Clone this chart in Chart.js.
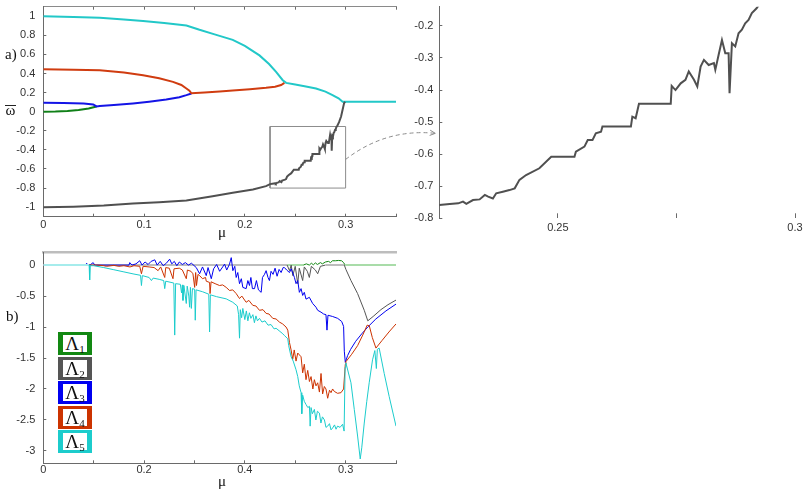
<!DOCTYPE html>
<html>
<head>
<meta charset="utf-8">
<script src="https://cdn.jsdelivr.net/npm/chart.js@4.4.1/dist/chart.umd.min.js"></script>
<style>
  html, body { margin: 0; padding: 0; background: #fff; }
  #page { position: relative; width: 803px; height: 491px; overflow: hidden; font-family: "Liberation Serif", "DejaVu Serif", serif; }
  .box { position: absolute; }
  .lbl { position: absolute; color: #111; font-size: 15px; line-height: 15px; white-space: nowrap; }
  .leg { position: absolute; left: 58px; width: 24px; height: 17px; border-style: solid; border-width: 3px 5px; background: #fff;
         font-size: 19px; line-height: 18px; text-align: center; color: #111; }
  .leg sub { font-size: 11px; line-height: 0; vertical-align: -3px; }
</style>
</head>
<body>
<div id="page">
  <div class="box" style="left:0;top:0;width:400px;height:245px"><canvas id="chartA"></canvas></div>
  <div class="box" style="left:400px;top:0;width:403px;height:245px"><canvas id="chartC"></canvas></div>
  <div class="box" style="left:0;top:245px;width:400px;height:246px"><canvas id="chartB"></canvas></div>
  <canvas id="overlay" width="803" height="491" style="position:absolute;left:0;top:0;pointer-events:none"></canvas>

  <div class="lbl" style="left:5px;top:47px">a)</div>
  <div class="lbl" style="left:6px;top:309px">b)</div>
  <div class="lbl" style="left:5px;top:105px;width:11px;border-top:1px solid #222;line-height:9px;text-align:center">ω</div>
  <div class="lbl" style="left:218px;top:225px">μ</div>
  <div class="lbl" style="left:218px;top:474px">μ</div>

  <div class="leg" style="top:332px;border-color:#128812">Λ<sub>1</sub></div>
  <div class="leg" style="top:356.5px;border-color:#555555">Λ<sub>2</sub></div>
  <div class="leg" style="top:381px;border-color:#0000f0">Λ<sub>3</sub></div>
  <div class="leg" style="top:405.5px;border-color:#cc3300">Λ<sub>4</sub></div>
  <div class="leg" style="top:430px;border-color:#1ccccc">Λ<sub>5</sub></div>
</div>

<script>
// ---- data: panel a, mean frequencies vs mu ----
const omegaCyan = [[0,1.0],[0.03,0.993],[0.0561,0.983],[0.08,0.967],[0.099,0.95],[0.12,0.93],[0.142,0.903],[0.155,0.858],
  [0.17,0.81],[0.188,0.753],[0.2,0.69],[0.2145,0.59],[0.224,0.5],[0.231,0.417],[0.2376,0.33],[0.241,0.302],[0.25,0.285],
  [0.2606,0.265],[0.2706,0.243],[0.28,0.21],[0.287,0.174],[0.293,0.14],[0.297,0.104],[0.35,0.104]];
const omegaRed = [[0,0.444],[0.03,0.44],[0.056,0.434],[0.08,0.41],[0.099,0.382],[0.115,0.35],[0.1287,0.3125],[0.137,0.28],
  [0.142,0.243],[0.145,0.22],[0.147,0.193],[0.16,0.202],[0.175,0.212],[0.188,0.222],[0.205,0.235],[0.221,0.25],
  [0.23,0.262],[0.236,0.28],[0.2393,0.302]];
const omegaBlue = [[0,0.094],[0.02,0.092],[0.04,0.085],[0.0495,0.076],[0.0528,0.055],[0.056,0.059],[0.07,0.07],
  [0.089,0.087],[0.105,0.105],[0.122,0.128],[0.135,0.152],[0.142,0.174],[0.147,0.191]];
const omegaGreen = [[0,0],[0.012,0.002],[0.024,0.007],[0.035,0.017],[0.045,0.034],[0.0528,0.055]];
const omegaGray = [[0,-1.0],[0.03,-0.995],[0.06,-0.983],[0.089,-0.962],[0.115,-0.948],[0.142,-0.93],[0.168,-0.885],
  [0.188,-0.85],[0.208,-0.816],[0.221,-0.78],[0.225,-0.7585],[0.2272,-0.7554],[0.229,-0.7533],[0.23,-0.748],
  [0.2307,-0.755],[0.2321,-0.743],[0.2335,-0.741],[0.2346,-0.727],[0.2353,-0.7325],[0.2363,-0.738],[0.237,-0.722],
  [0.2384,-0.717],[0.2398,-0.712],[0.2409,-0.7065],[0.2419,-0.68],[0.2433,-0.665],[0.2461,-0.644],[0.2486,-0.608],
  [0.2535,-0.608],[0.2538,-0.592],[0.2556,-0.5765],[0.2563,-0.556],[0.2573,-0.556],[0.258,-0.535],[0.2591,-0.53],
  [0.2594,-0.514],[0.2654,-0.514],[0.2657,-0.483],[0.2664,-0.488],[0.2668,-0.462],[0.2671,-0.443],[0.2738,-0.443],
  [0.274,-0.387],[0.2748,-0.4],[0.2759,-0.379],[0.2769,-0.368],[0.2776,-0.342],[0.2787,-0.368],[0.2794,-0.389],
  [0.2801,-0.327],[0.2808,-0.306],[0.2818,-0.322],[0.2829,-0.316],[0.2832,-0.337],[0.2839,-0.29],[0.2846,-0.244],
  [0.2853,-0.285],[0.286,-0.285],[0.2862,-0.41],[0.2867,-0.254],[0.2874,-0.264],[0.2881,-0.223],[0.2888,-0.212],
  [0.2895,-0.192],[0.2902,-0.181],[0.2909,-0.16],[0.2919,-0.145],[0.2935,-0.11],[0.2955,-0.05],[0.297,0.02],
  [0.2985,0.09],[0.2995,0.104]];
const zoomBoxMu = [0.225, 0.3];
const zoomBoxOmega = [-0.8, -0.155];

// ---- data: panel b, Lyapunov exponents vs mu ----
const lyap1 = [[0,0],[0.258,0],[0.261,0.02],[0.264,0],[0.266,0.03],[0.268,0.005],[0.27,0.035],[0.272,0.01],[0.275,0.04],
  [0.277,0.02],[0.28,0.05],[0.283,0.06],[0.285,0.04],[0.287,0.07],[0.29,0.07],[0.293,0.075],[0.296,0.07],[0.298,0.04],
  [0.2995,0],[0.35,0]];
const lyap2 = [[0,0],[0.242,0],[0.2443,-0.09],[0.246,0],[0.2476,-0.17],[0.25,-0.02],[0.2525,-0.3],[0.254,-0.05],
  [0.2574,-0.25],[0.259,-0.03],[0.262,-0.1],[0.264,-0.2],[0.266,-0.02],[0.27,-0.08],[0.2723,-0.14],[0.275,-0.02],
  [0.28,0],[0.2987,0],[0.3003,-0.07],[0.3053,-0.25],[0.3119,-0.46],[0.3185,-0.73],[0.322,-0.9],[0.328,-0.82],
  [0.335,-0.72],[0.342,-0.64],[0.35,-0.565]];
const lyap3 = [[0,0],[0.042,0],[0.043,0.03],[0.0445,-0.005],[0.047,0.01],[0.0495,0.04],[0.051,0],[0.085,0],[0.0858,0.04],
  [0.088,0],[0.092,0.02],[0.0957,0.07],[0.098,0],[0.101,0.05],[0.104,0.01],[0.107,0.06],[0.1106,0.085],[0.113,0],
  [0.116,0.06],[0.119,-0.01],[0.1221,0.03],[0.1254,0.096],[0.1275,0.02],[0.13,0.06],[0.1325,-0.01],[0.135,0.05],
  [0.138,0.01],[0.141,0.04],[0.144,0],[0.147,0.03],[0.1518,-0.04],[0.1551,-0.14],[0.158,-0.03],[0.1617,-0.17],
  [0.1635,-0.04],[0.1667,-0.22],[0.169,-0.06],[0.172,0.01],[0.175,-0.1],[0.178,-0.03],[0.1799,0.016],[0.182,-0.08],
  [0.1848,0.016],[0.1865,0.12],[0.1881,-0.09],[0.19,-0.02],[0.1914,-0.2],[0.193,-0.12],[0.1947,-0.3],[0.1965,-0.22],
  [0.198,-0.36],[0.2013,-0.38],[0.203,-0.25],[0.2046,-0.33],[0.206,-0.2],[0.2075,-0.38],[0.2096,-0.38],[0.2115,-0.25],
  [0.2135,-0.4],[0.2162,-0.44],[0.2175,-0.2],[0.2195,-0.15],[0.2211,-0.09],[0.223,-0.2],[0.2244,-0.25],[0.226,-0.1],
  [0.228,-0.15],[0.23,-0.05],[0.232,-0.18],[0.234,-0.07],[0.236,-0.12],[0.238,-0.04],[0.2393,-0.04],[0.2415,-0.08],
  [0.2443,-0.12],[0.246,-0.06],[0.2492,-0.2],[0.2508,-0.3],[0.2525,-0.25],[0.2541,-0.44],[0.2558,-0.38],[0.2574,-0.49],
  [0.259,-0.44],[0.2607,-0.55],[0.264,-0.52],[0.2673,-0.62],[0.2706,-0.68],[0.2723,-0.73],[0.2756,-0.76],[0.2782,-0.79],
  [0.2805,-0.8],[0.2815,-1.05],[0.2825,-0.81],[0.2871,-0.83],[0.2921,-0.86],[0.2961,-0.91],[0.298,-0.99],[0.2987,-1.39],
  [0.2997,-1.57],[0.302,-1.46],[0.305,-1.36],[0.31,-1.23],[0.316,-1.11],[0.322,-1.0],[0.33,-0.87],[0.34,-0.74],[0.35,-0.63]];
const lyap4 = [[0,0],[0.054,0],[0.06,-0.01],[0.0627,-0.02],[0.07,-0.005],[0.075,-0.02],[0.08,-0.01],[0.086,-0.03],
  [0.09,-0.01],[0.0957,-0.02],[0.0974,-0.14],[0.099,-0.02],[0.105,-0.03],[0.11,-0.04],[0.1139,-0.09],[0.1165,-0.03],
  [0.1205,-0.2],[0.1215,-0.04],[0.125,-0.05],[0.1287,-0.22],[0.1297,-0.06],[0.135,-0.05],[0.138,-0.08],[0.1419,-0.22],
  [0.143,-0.08],[0.1465,-0.1],[0.1485,-0.14],[0.1502,-0.36],[0.1512,-0.12],[0.152,-0.33],[0.1535,-0.15],[0.1551,-0.17],
  [0.158,-0.22],[0.161,-0.2],[0.1617,-0.26],[0.165,-0.28],[0.1655,-0.46],[0.1665,-0.27],[0.1705,-0.3],[0.1749,-0.33],
  [0.178,-0.32],[0.1815,-0.36],[0.1848,-0.41],[0.188,-0.4],[0.1914,-0.46],[0.1947,-0.54],[0.197,-0.5],[0.2013,-0.6],
  [0.204,-0.57],[0.2079,-0.65],[0.211,-0.66],[0.2145,-0.73],[0.218,-0.72],[0.2211,-0.78],[0.224,-0.79],[0.2277,-0.86],
  [0.231,-0.87],[0.2343,-0.92],[0.2375,-0.95],[0.2409,-1.0],[0.2426,-1.05],[0.2443,-1.25],[0.2459,-1.37],[0.2475,-1.52],
  [0.249,-1.37],[0.2508,-1.55],[0.2525,-1.42],[0.2558,-1.48],[0.2574,-1.74],[0.259,-1.6],[0.2607,-1.85],[0.2624,-1.7],
  [0.2641,-1.88],[0.2657,-1.8],[0.2675,-2.0],[0.269,-1.85],[0.2706,-1.95],[0.2723,-1.9],[0.274,-2.05],[0.2756,-1.75],
  [0.2772,-2.08],[0.2789,-1.96],[0.2805,-2.0],[0.2822,-2.15],[0.284,-2.02],[0.2855,-2.06],[0.2871,-2.0],[0.2888,-2.04],
  [0.292,-2.07],[0.2954,-2.06],[0.298,-2.0],[0.2997,-1.6],[0.3003,-1.56],[0.306,-1.44],[0.3119,-1.3],[0.317,-1.13],
  [0.3214,-0.97],[0.3235,-0.98],[0.3265,-1.17],[0.3301,-1.34],[0.336,-1.22],[0.343,-1.08],[0.35,-0.95]];
const lyap5 = [[0,0],[0.0455,0],[0.046,-0.24],[0.0466,-0.01],[0.05,-0.01],[0.06,-0.04],[0.07,-0.075],[0.08,-0.11],
  [0.09,-0.145],[0.0965,-0.165],[0.0974,-0.33],[0.0983,-0.17],[0.105,-0.2],[0.1073,-0.25],[0.109,-0.21],[0.115,-0.23],
  [0.1195,-0.25],[0.1205,-0.38],[0.1215,-0.26],[0.1295,-0.29],[0.1304,-1.13],[0.1313,-0.3],[0.136,-0.31],[0.1372,-0.45],
  [0.138,-0.32],[0.1386,-0.57],[0.1395,-0.33],[0.1419,-0.62],[0.1428,-0.34],[0.1444,-0.5],[0.1452,-0.68],[0.146,-0.36],
  [0.1469,-0.7],[0.148,-0.38],[0.1502,-0.39],[0.1508,-0.89],[0.1516,-0.4],[0.158,-0.43],[0.1642,-0.47],[0.165,-1.08],
  [0.1658,-0.48],[0.172,-0.51],[0.1815,-0.545],[0.188,-0.6],[0.1925,-0.66],[0.1938,-0.8],[0.1947,-1.18],[0.1955,-0.72],
  [0.1968,-0.85],[0.198,-0.7],[0.2,-0.88],[0.2015,-0.74],[0.203,-0.9],[0.2045,-0.77],[0.206,-0.86],[0.208,-0.8],
  [0.2095,-0.93],[0.211,-0.82],[0.2125,-0.9],[0.2145,-0.86],[0.217,-0.92],[0.22,-0.9],[0.223,-0.97],[0.226,-0.96],
  [0.229,-1.03],[0.231,-1.02],[0.234,-1.06],[0.237,-1.1],[0.2395,-1.14],[0.2426,-1.19],[0.2435,-1.3],[0.2459,-1.48],
  [0.248,-1.55],[0.2508,-1.69],[0.2525,-1.8],[0.254,-1.95],[0.2558,-2.06],[0.2565,-2.4],[0.2574,-2.1],[0.259,-2.2],
  [0.2607,-2.25],[0.2625,-2.3],[0.2641,-2.28],[0.2648,-2.6],[0.2657,-2.3],[0.267,-2.4],[0.269,-2.33],[0.2705,-2.5],
  [0.272,-2.36],[0.274,-2.39],[0.2755,-2.55],[0.277,-2.45],[0.279,-2.5],[0.2805,-2.62],[0.2822,-2.6],[0.284,-2.56],
  [0.2855,-2.66],[0.2871,-2.63],[0.289,-2.58],[0.2905,-2.65],[0.292,-2.6],[0.2945,-2.62],[0.297,-2.57],[0.2985,-2.68],
  [0.2995,-1.65],[0.3003,-1.58],[0.3053,-1.9],[0.3086,-2.33],[0.3119,-2.76],[0.3145,-3.13],[0.316,-2.95],[0.3185,-2.55],
  [0.321,-2.2],[0.3234,-1.9],[0.3267,-1.53],[0.329,-1.38],[0.3305,-1.67],[0.3315,-1.36],[0.3333,-1.34],[0.3383,-1.75],
  [0.3432,-2.12],[0.35,-2.6]];

// ---- ticks ----
const muTicks = [0, 0.05, 0.1, 0.15, 0.2, 0.25, 0.3, 0.35];
const muLabelsA = ['0', '', '0.1', '', '0.2', '', '0.3', ''];
const muLabelsB = ['0', '', '0.2', '', '0.4', '', '0.3', ''];
const omegaTicks = [1, 0.8, 0.6, 0.4, 0.2, 0, -0.2, -0.4, -0.6, -0.8, -1];
const omegaLabels = ['1', '0.8', '0.6', '0.4', '0.2', '0', '-0.2', '-0.4', '-0.6', '-0.8', '-1'];
const insetMuTicks = [0.225, 0.25, 0.275, 0.3];
const insetMuLabels = ['', '0.25', '', '0.3'];
const insetOmegaTicks = [-0.2, -0.3, -0.4, -0.5, -0.6, -0.7, -0.8];
const insetOmegaLabels = ['-0.2', '-0.3', '-0.4', '-0.5', '-0.6', '-0.7', '-0.8'];
const lyapTicks = [0, -0.5, -1, -1.5, -2, -2.5, -3];
const lyapLabels = ['0', '-0.5', '-1', '-1.5', '-2', '-2.5', '-3'];

// ---- helpers ----
const tickFont = { family: '"Liberation Sans", Arial, sans-serif', size: 11 };
const axisGray = '#6a6a6a';

function pts(pairs) { return pairs.map(p => ({ x: p[0], y: p[1] })); }
function fixedTicks(values) { return scale => { scale.ticks = values.map(v => ({ value: v })); }; }

function line(pairs, color, width, extra) {
  return Object.assign({ data: pts(pairs), borderColor: color, borderWidth: width, pointRadius: 0, fill: false, tension: 0 }, extra || {});
}

function zeroSegment(light) {
  const flat = c => c.p0.parsed.y === 0 && c.p1.parsed.y === 0;
  return { segment: { borderColor: c => flat(c) ? light : undefined, borderWidth: c => flat(c) ? 2 : undefined } };
}

function xAxis(min, max, ticks, labels, height, padding, tickLength, showBorder) {
  return {
    type: 'linear', min: min, max: max,
    afterBuildTicks: fixedTicks(ticks),
    afterFit: s => { s.height = height; s.paddingLeft = 0; s.paddingRight = 0; },
    ticks: { autoSkip: false, maxRotation: 0, padding: padding, color: '#333', font: tickFont, callback: (v, i) => labels[i] },
    grid: { drawOnChartArea: false, drawTicks: true, tickLength: tickLength, color: axisGray },
    border: { display: showBorder, color: axisGray, width: 1 }
  };
}

function yAxis(min, max, ticks, labels, width, padding) {
  return {
    min: min, max: max,
    afterBuildTicks: fixedTicks(ticks),
    afterFit: s => { s.width = width; s.paddingTop = 0; s.paddingBottom = 0; },
    ticks: { autoSkip: false, padding: padding, color: '#333', font: tickFont, callback: (v, i) => labels[i] },
    grid: { drawOnChartArea: false, drawTicks: true, tickLength: -3, color: axisGray },
    border: { color: axisGray, width: 1 }
  };
}

function topBorder(min, max, ticks, color, width, tickLength) {
  return {
    type: 'linear', position: 'top', min: min, max: max,
    afterBuildTicks: fixedTicks(ticks),
    afterFit: s => { s.height = 0; s.paddingLeft = 0; s.paddingRight = 0; },
    ticks: { display: false },
    grid: { display: tickLength !== 0, drawOnChartArea: false, tickLength: tickLength, color: axisGray },
    border: { color: color, width: width }
  };
}

const baseOptions = {
  responsive: true,
  maintainAspectRatio: false,
  animation: false,
  events: [],
  plugins: { legend: { display: false }, tooltip: { enabled: false } }
};

// ---- panel a ----
const boxPairs = [[zoomBoxMu[0], zoomBoxOmega[0]], [zoomBoxMu[1], zoomBoxOmega[0]], [zoomBoxMu[1], zoomBoxOmega[1]],
  [zoomBoxMu[0], zoomBoxOmega[1]], [zoomBoxMu[0], zoomBoxOmega[0]]];

const chartA = new Chart(document.getElementById('chartA'), {
  type: 'line',
  data: {
    datasets: [
      line(omegaGray, '#505050', 2),
      line(omegaCyan, '#22c8c8', 2),
      line(omegaRed, '#d03c10', 2),
      line(omegaBlue, '#1414e6', 2),
      line(omegaGreen, '#108018', 2),
      line(boxPairs, '#8c8c8c', 1)
    ]
  },
  options: Object.assign({}, baseOptions, {
    layout: { padding: { left: 0, top: 6.7, right: 4, bottom: 0 } },
    scales: {
      x: xAxis(0, 0.35, muTicks, muLabelsA, 28.3, 4.7, -3, true),
      x2: topBorder(0, 0.35, muTicks, '#8a8a8a', 1, -3),
      y: yAxis(-1.1, 1.1, omegaTicks, omegaLabels, 43.3, 11)
    }
  })
});

// ---- inset ----
const chartC = new Chart(document.getElementById('chartC'), {
  type: 'line',
  data: { datasets: [line(omegaGray, '#505050', 2)] },
  options: Object.assign({}, baseOptions, {
    layout: { padding: { left: 0, top: 6.7, right: 8, bottom: 0 } },
    scales: {
      x: xAxis(0.225, 0.3, insetMuTicks, insetMuLabels, 26.7, 8.4, -5, false),
      y: yAxis(-0.8, -0.14, insetOmegaTicks, insetOmegaLabels, 39.3, 9)
    }
  })
});

// ---- panel b ----
const chartB = new Chart(document.getElementById('chartB'), {
  type: 'line',
  data: {
    datasets: [
      line(lyap5, '#1ccccc', 1, zeroSegment('#a6ecec')),
      line(lyap4, '#cc3300', 1),
      line(lyap3, '#0000f0', 1),
      line(lyap2, '#555555', 1, zeroSegment('#bdbdbd')),
      line(lyap1, '#128812', 1, zeroSegment('#a9dca9'))
    ]
  },
  options: Object.assign({}, baseOptions, {
    layout: { padding: { left: 0, top: 7.7, right: 4, bottom: 0 } },
    scales: {
      x: xAxis(0, 0.35, muTicks, muLabelsB, 27.7, 3.1, -3, true),
      x2: topBorder(0, 0.35, muTicks, '#bdbdbd', 2.5, 0),
      y: yAxis(-3.2, 0.2, lyapTicks, lyapLabels, 43.3, 11)
    }
  })
});

// ---- dashed arrow from the zoom box to the inset ----
(function drawArrow() {
  const ctx = document.getElementById('overlay').getContext('2d');
  const sx = chartA.scales.x.getPixelForValue(zoomBoxMu[1]);
  const sy = chartA.scales.y.getPixelForValue(-0.5);
  const ex = 400 + chartC.chartArea.left - 4;
  const ey = chartC.scales.y.getPixelForValue(-0.535);
  const cx = sx + 0.45 * (ex - sx);
  const cy = ey - 5;
  ctx.strokeStyle = '#8a8a8a';
  ctx.lineWidth = 1;
  ctx.setLineDash([4, 3]);
  ctx.beginPath();
  ctx.moveTo(sx, sy);
  ctx.quadraticCurveTo(cx, cy, ex, ey);
  ctx.stroke();
  ctx.setLineDash([]);
  const ang = Math.atan2(ey - cy, ex - cx);
  ctx.beginPath();
  ctx.moveTo(ex - 6 * Math.cos(ang - 0.45), ey - 6 * Math.sin(ang - 0.45));
  ctx.lineTo(ex, ey);
  ctx.lineTo(ex - 6 * Math.cos(ang + 0.45), ey - 6 * Math.sin(ang + 0.45));
  ctx.stroke();
})();
</script>
</body>
</html>
